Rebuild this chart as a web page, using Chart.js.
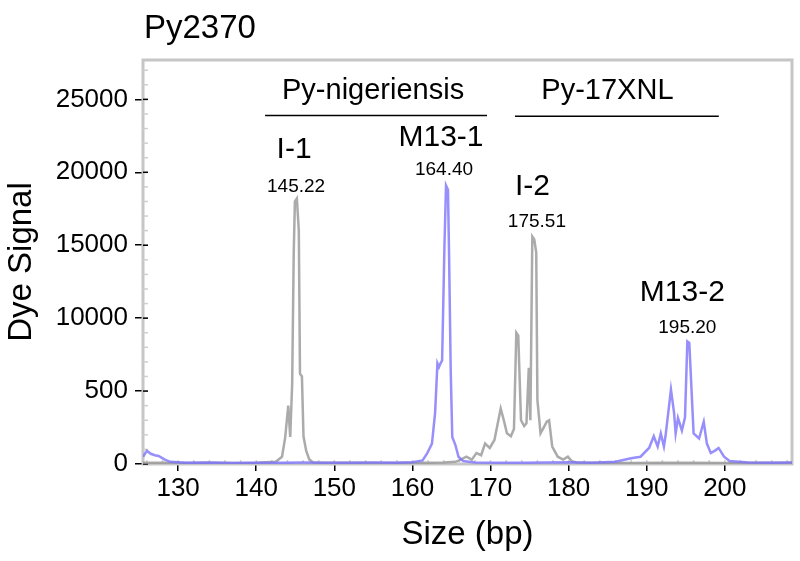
<!DOCTYPE html>
<html>
<head>
<meta charset="utf-8">
<script src="https://cdn.jsdelivr.net/npm/chart.js@4/dist/chart.umd.min.js"></script>
<style>
  body { margin: 0; background: #fff; }
  #wrap { width: 800px; height: 561px; }
</style>
</head>
<body>
<div id="wrap"><canvas id="myChart"></canvas></div>
<script>
// size in bp, dye signal
const grayX = [125.5, 128, 131, 134, 137, 140, 142.5, 143.3, 143.7, 144.1, 144.35, 144.6, 144.8, 144.95, 145.2, 145.45, 145.6, 145.85, 146.05, 146.4, 146.8, 147.3,
  150, 153, 156, 159, 162, 164, 165.5, 166.2, 166.9, 167.6, 168.2, 168.8, 169.3, 169.9, 170.5, 171.3, 171.7, 172.1, 172.6, 173.0, 173.3, 173.55,
  173.9, 174.3, 174.6, 174.9, 175.1, 175.35, 175.6, 175.85, 176.0, 176.4, 176.8, 177.2, 177.5, 177.9, 178.6, 179.3, 179.9, 180.4, 181,
  184, 188, 192, 196, 200, 204, 208.6]
const grayY = [80, 90, 70, 80, 70, 90, 150, 500, 1800, 4000, 1850, 5500, 14500, 18000, 18200, 16000, 6200, 6000, 1900, 900, 300, 100,
  80, 90, 70, 90, 80, 100, 150, 300, 500, 300, 750, 600, 1400, 1100, 1650, 3800, 3000, 2100, 1900, 2400, 9000, 8800,
  3000, 2600, 2800, 6600, 3000, 15600, 15400, 14500, 4400, 2100, 2500, 2900, 3000, 1200, 500, 300, 500, 200, 100,
  80, 70, 90, 80, 70, 80, 80]

const blueX = [125.5, 126, 126.5, 127, 127.5, 128.3, 129, 131, 134, 137, 140, 143, 146, 149, 152, 155, 158, 160, 161.3, 161.9,
  162.5, 162.9, 163.2, 163.4, 163.6, 163.8, 164.1, 164.3, 164.55, 164.7, 164.9, 165.1, 165.5, 165.9, 166.5, 168, 171, 174, 177, 180,
  183, 186, 188, 189.2, 190.3, 190.9, 191.4, 191.8, 192.2, 192.4, 193.1, 193.5, 193.7, 194, 194.5, 194.9, 195.2, 195.45,
  196, 196.7, 197.3, 197.7, 198.2, 198.7, 199.2, 199.9, 200.6, 203, 206, 208.6]
const blueY = [500, 900, 700, 600, 550, 300, 150, 80, 100, 70, 90, 80, 100, 90, 80, 100, 90, 120, 250, 750,
  1400, 3500, 6900, 6650, 6900, 7100, 15000, 19100, 18800, 14000, 6400, 1850, 1300, 500, 200, 100, 90, 80, 100, 120,
  90, 150, 400, 500, 1100, 1900, 1200, 2100, 1200, 1900, 5100, 3500, 2100, 3150, 2300, 3200, 8400, 8300,
  2100, 1750, 2900, 1400, 750, 900, 1100, 500, 200, 100, 90, 100]

const xTicks = [130, 140, 150, 160, 170, 180, 190, 200]
const yTickValues = [0, 5000, 10000, 15000, 20000, 25000]
const yTickLabels = ['0', '500', '10000', '15000', '20000', '25000']

// labels over the peaks (x in bp, y in signal)
const annoText = ['Py-nigeriensis', 'Py-17XNL', 'I-1', '145.22', 'M13-1', '164.40', 'I-2', '175.51', 'M13-2', '195.20']
const annoX = [154.96, 184.97, 144.85, 145.1, 163.66, 164.04, 175.37, 175.94, 194.56, 195.2]
const annoY = [25550, 25550, 21580, 19040, 22360, 20140, 19040, 16610, 11750, 9350]
const annoSize = [29, 29, 30, 19, 30, 19, 30, 19, 30, 19]

// lines under the group names
const groupFrom = [141.13, 173.13]
const groupTo = [169.55, 199.23]
const groupY = [23900, 23840]

const FONT = '"Liberation Sans", Arial, Helvetica, sans-serif'

function toPoints(xs, ys) {
    return xs.map((x, i) => ({ x: x, y: ys[i] }))
}

const framePlugin = {
    id: 'frame',
    beforeDatasetsDraw(chart) {
        const { ctx, chartArea: a, scales } = chart
        ctx.save()
        ctx.strokeStyle = '#c6c6c6'
        ctx.lineWidth = 3
        ctx.strokeRect(a.left, a.top, a.right - a.left, a.bottom - a.top)
        // minor ticks along left and bottom
        ctx.strokeStyle = '#cfcfcf'
        ctx.lineWidth = 1.5
        for (let v = 1000; v < 27700; v += 1000) {
            const y = scales.y.getPixelForValue(v)
            ctx.beginPath(); ctx.moveTo(a.left, y); ctx.lineTo(a.left + 5, y); ctx.stroke()
        }
        for (let v = 126; v < 208.6; v += 2) {
            const x = scales.x.getPixelForValue(v)
            ctx.beginPath(); ctx.moveTo(x, a.bottom); ctx.lineTo(x, a.bottom - 4); ctx.stroke()
        }
        // major y ticks reach a little into the frame
        ctx.strokeStyle = '#000'
        yTickValues.forEach(v => {
            const y = scales.y.getPixelForValue(v)
            ctx.beginPath(); ctx.moveTo(a.left, y); ctx.lineTo(a.left + 5, y); ctx.stroke()
        })
        ctx.restore()
    },
    afterDatasetsDraw(chart) {
        const { ctx, scales } = chart
        ctx.save()
        ctx.fillStyle = '#000'
        ctx.textAlign = 'center'
        ctx.textBaseline = 'middle'
        annoText.forEach((t, i) => {
            ctx.font = annoSize[i] + 'px ' + FONT
            ctx.fillText(t, scales.x.getPixelForValue(annoX[i]), scales.y.getPixelForValue(annoY[i]))
        })
        ctx.strokeStyle = '#000'
        ctx.lineWidth = 1.5
        groupFrom.forEach((g, i) => {
            const y = scales.y.getPixelForValue(groupY[i])
            ctx.beginPath()
            ctx.moveTo(scales.x.getPixelForValue(g), y)
            ctx.lineTo(scales.x.getPixelForValue(groupTo[i]), y)
            ctx.stroke()
        })
        // chart name, top left
        ctx.textAlign = 'left'
        ctx.textBaseline = 'alphabetic'
        ctx.font = '33px ' + FONT
        ctx.fillText('Py2370', 144, 38)
        ctx.restore()
    }
}

const data = {
    datasets: [{
        label: 'M13',
        data: toPoints(blueX, blueY),
        borderColor: 'rgba(125, 115, 250, 0.8)',
        borderWidth: 2.5,
        pointRadius: 0,
        showLine: true,
        tension: 0
    }, {
        label: 'I',
        data: toPoints(grayX, grayY),
        borderColor: 'rgba(150, 150, 150, 0.8)',
        borderWidth: 2.5,
        pointRadius: 0,
        showLine: true,
        tension: 0
    }]
}

const config = {
    type: 'scatter',
    data: data,
    options: {
        responsive: true,
        maintainAspectRatio: false,
        animation: false,
        layout: { padding: { top: 60, right: 8, left: 0, bottom: 0 } },
        plugins: {
            legend: { display: false },
            tooltip: { enabled: false }
        },
        scales: {
            x: {
                type: 'linear',
                min: 125.5,
                max: 208.6,
                afterFit: (s) => { s.height = 97 },
                afterBuildTicks: (s) => { s.ticks = xTicks.map(v => ({ value: v })) },
                ticks: {
                    color: '#000',
                    font: { family: FONT, size: 26 },
                    padding: 2,
                    maxRotation: 0,
                    autoSkip: false
                },
                grid: { drawOnChartArea: false, drawTicks: true, tickLength: 7, color: '#000', lineWidth: 1.5 },
                border: { display: true, color: '#6d6d92', width: 2 },
                title: {
                    display: true,
                    text: 'Size (bp)',
                    color: '#000',
                    font: { family: FONT, size: 33 },
                    padding: { top: 0, bottom: 6 }
                }
            },
            y: {
                type: 'linear',
                min: 0,
                max: 27700,
                afterFit: (s) => { s.width = 143 },
                afterBuildTicks: (s) => { s.ticks = yTickValues.map(v => ({ value: v })) },
                ticks: {
                    color: '#000',
                    font: { family: FONT, size: 26 },
                    padding: 7,
                    autoSkip: false,
                    callback: (v) => yTickLabels[yTickValues.indexOf(v)]
                },
                grid: { drawOnChartArea: false, drawTicks: true, tickLength: 8, color: '#000', lineWidth: 1.5 },
                border: { display: false },
                title: {
                    display: true,
                    text: 'Dye Signal',
                    color: '#000',
                    font: { family: FONT, size: 33 },
                    padding: { top: 2, bottom: 0 }
                }
            }
        }
    },
    plugins: [framePlugin]
}

const myChart = new Chart(document.getElementById('myChart'), config)
</script>
</body>
</html>
